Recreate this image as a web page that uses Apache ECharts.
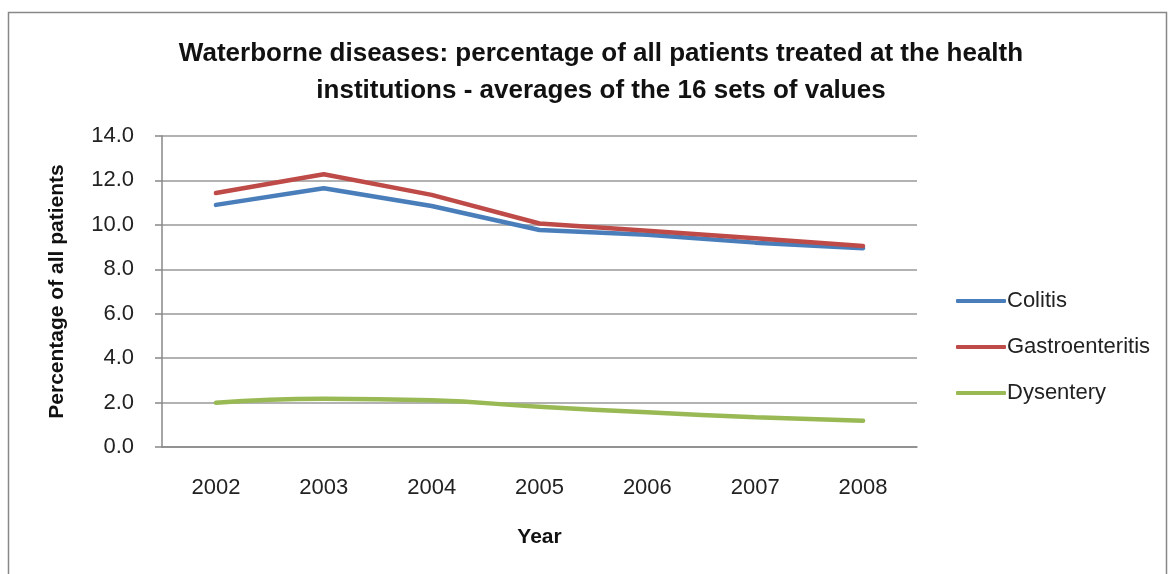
<!DOCTYPE html>
<html>
<head>
<meta charset="utf-8">
<script src="https://cdn.jsdelivr.net/npm/echarts@6/dist/echarts.min.js"></script>
<style>
  html, body { margin: 0; padding: 0; background: #fff; }
  #main { width: 1171px; height: 574px; }
</style>
</head>
<body>
<div id="main"></div>
<script>
var years = ["2002", "2003", "2004", "2005", "2006", "2007", "2008"];
var colitis = [10.9, 11.65, 10.85, 9.77, 9.55, 9.2, 8.95];
var gastro = [11.43, 12.28, 11.35, 10.06, 9.74, 9.4, 9.05];
var dysentery = [1.99, 2.17, 2.1, 1.81, 1.56, 1.34, 1.18];

var chartDom = document.getElementById("main");
var myChart = echarts.init(chartDom);
var option;

var font = "Liberation Sans";

option = {
  color: ["#4A7EBB", "#BE4B48", "#98B954"],
  animation: false,
  graphic: [
    {
      type: "rect",
      shape: { x: 8.5, y: 12.5, width: 1158, height: 575 },
      style: { fill: "none", stroke: "#888", lineWidth: 1.5 },
    },
  ],
  title: {
    text: "Waterborne diseases: percentage of all patients treated at the health\ninstitutions - averages of the 16 sets of values",
    left: 596,
    top: 30,
    textAlign: "center",
    textStyle: {
      fontFamily: font,
      fontSize: 26,
      fontWeight: "bold",
      color: "#111",
      lineHeight: 37,
    },
  },
  legend: {
    orient: "vertical",
    left: 951,
    top: 285,
    itemGap: 24,
    itemWidth: 50,
    itemHeight: 4,
    icon: "roundRect",
    textStyle: { fontFamily: font, fontSize: 22, color: "#222", padding: [0, 0, 0, -4] },
    data: ["Colitis", "Gastroenteritis", "Dysentery"],
  },
  grid: {
    left: 162,
    right: 254,
    top: 136,
    bottom: 127,
  },
  xAxis: {
    type: "category",
    data: years,
    boundaryGap: true,
    name: "Year",
    nameLocation: "middle",
    nameGap: 80,
    nameTextStyle: { fontFamily: font, fontSize: 21, fontWeight: "bold", color: "#111" },
    axisLine: { lineStyle: { color: "#888", width: 1.5 } },
    axisTick: { length: 9, lineStyle: { color: "#888", width: 1.5 } },
    axisLabel: { fontFamily: font, fontSize: 22, color: "#222", margin: 30 },
  },
  yAxis: {
    type: "value",
    min: 0,
    max: 14,
    interval: 2,
    name: "Percentage of all patients",
    nameLocation: "middle",
    nameGap: 94,
    nameTextStyle: { fontFamily: font, fontSize: 21, fontWeight: "bold", color: "#111" },
    axisLine: { show: true, lineStyle: { color: "#888", width: 1.5 } },
    axisTick: { show: true, length: 7, lineStyle: { color: "#888", width: 1.5 } },
    axisLabel: {
      fontFamily: font,
      fontSize: 22,
      color: "#222",
      margin: 28,
      formatter: function (v) {
        return v.toFixed(1);
      },
    },
    splitLine: { lineStyle: { color: "#999", width: 1.5 } },
  },
  series: [
    {
      name: "Colitis",
      type: "line",
      symbol: "none",
      lineStyle: { width: 4.5, cap: "round" },
      data: colitis,
    },
    {
      name: "Gastroenteritis",
      type: "line",
      symbol: "none",
      lineStyle: { width: 4.5, cap: "round" },
      data: gastro,
    },
    {
      name: "Dysentery",
      type: "line",
      symbol: "none",
      smooth: true,
      lineStyle: { width: 4.5, cap: "round" },
      data: dysentery,
    },
  ],
};

option && myChart.setOption(option);
</script>
</body>
</html>
